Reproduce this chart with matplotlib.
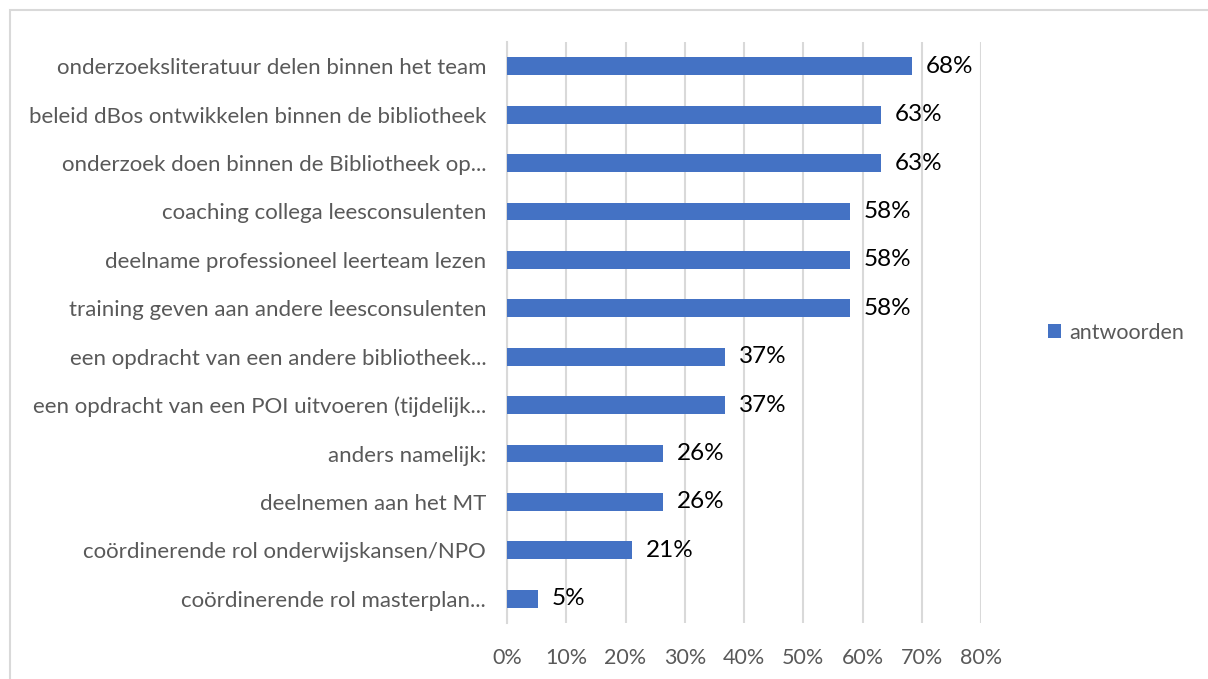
import matplotlib.pyplot as plt
from matplotlib.patches import Rectangle
from matplotlib.ticker import PercentFormatter

plt.rcParams['font.family'] = ['Lato', 'DejaVu Sans']

categories = [
    "onderzoeksliteratuur delen binnen het team",
    "beleid dBos ontwikkelen binnen de bibliotheek",
    "onderzoek doen binnen de Bibliotheek op...",
    "coaching collega leesconsulenten",
    "deelname professioneel leerteam lezen",
    "training geven aan andere leesconsulenten",
    "een opdracht van een andere bibliotheek...",
    "een opdracht van een POI uitvoeren (tijdelijk...",
    "anders namelijk:",
    "deelnemen aan het MT",
    "coördinerende rol onderwijskansen/NPO",
    "coördinerende rol masterplan...",
]
values = [68.4, 63.2, 63.2, 57.9, 57.9, 57.9, 36.8, 36.8, 26.3, 26.3, 21.1, 5.3]
series_name = "antwoorden"

fig = plt.figure(figsize=(12.08, 6.79), dpi=100)
ax = fig.add_axes([0.4197, 0.0825, 0.3924, 0.8556])

# rand rond het diagram
fig.patches.append(Rectangle((0.008, -0.01), 1.0, 0.995, transform=fig.transFigure,
                             fill=False, edgecolor='#d9d9d9', linewidth=1.5))

y = list(range(len(categories)))
ax.barh(y, values, height=0.37, color='#4472c4', label=series_name, zorder=3)
ax.set_ylim(len(categories) - 0.5, -0.5)
ax.set_xlim(0, 80)
ax.set_yticks(y)
ax.set_yticklabels(categories, fontsize=16, color='#595959')
ax.set_xticks(range(0, 81, 10))
ax.xaxis.set_major_formatter(PercentFormatter(decimals=0))
ax.tick_params(axis='x', labelsize=15.5, labelcolor='#595959', length=0, pad=18)
ax.tick_params(axis='y', length=0, pad=15)
ax.grid(axis='x', color='#d9d9d9', linewidth=1.5, zorder=0)
for s in ['top', 'right', 'bottom']:
    ax.spines[s].set_visible(False)
ax.spines['left'].set_color('#d9d9d9')
ax.spines['left'].set_linewidth(1.5)

for yi, v in zip(y, values):
    ax.text(v + 2.3, yi, f"{round(v)}%", va='center', ha='left', fontsize=17.5, color='#000000', zorder=4)

ax.legend(loc='center left', bbox_to_anchor=(1.10, 0.5), frameon=False, fontsize=15.5,
          handlelength=0.6, handleheight=0.6, handletextpad=0.4, labelcolor='#595959')

fig.savefig('out.png', dpi=100)
